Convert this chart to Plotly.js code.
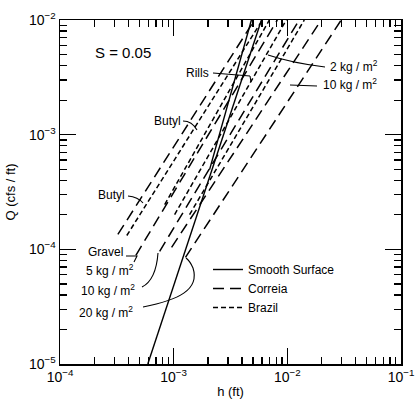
<!DOCTYPE html>
<html><head><meta charset="utf-8">
<script src="https://cdn.plot.ly/plotly-3.0.1.min.js"></script>
<style>html,body{margin:0;padding:0;background:#fff;}#chart{width:419px;height:408px;}</style>
</head><body><div id="chart"></div>
<script>
// ---- data (h in ft, Q in cfs/ft) ----
// Smooth surface (solid)
const smoothH = [5.92e-4, 5.92e-3];
const smoothQ = [1.0e-5, 1.0e-2];
// Rills (solid)
const rillsH = [2.07e-3, 4.83e-3];
const rillsQ = [4.96e-4, 1.0e-2];
// Correia (long dash)
const correiaNames = ['Butyl', 'Gravel', '5 kg/m2', '10 kg/m2', '20 kg/m2'];
const correiaH = [[3.23e-4, 5.14e-3], [4.65e-4, 8.17e-3], [7.53e-4, 1.27e-2], [9.59e-4, 1.99e-2], [1.27e-3, 2.98e-2]];
const correiaQ = [[1.35e-4, 1e-2], [8.87e-5, 1e-2], [9.61e-5, 1e-2], [1.04e-4, 1e-2], [8.51e-5, 1e-2]];
// Brazil (short dash)
const brazilNames = ['Butyl', 'Rills', '2 kg/m2', '10 kg/m2'];
const brazilH = [[3.87e-4, 6.04e-3], [8.34e-4, 6.95e-3], [1.02e-3, 9.79e-3], [1.38e-3, 1.41e-2]];
const brazilQ = [[1.32e-4, 1e-2], [2.46e-4, 1e-2], [2.01e-4, 1e-2], [2.01e-4, 1e-2]];
// ticks
const majorX = [1e-4, 1e-3, 1e-2, 1e-1];
const majorXText = ['10<sup>−4</sup>', '10<sup>−3</sup>', '10<sup>−2</sup>', '10<sup>−1</sup>'];
const majorY = [1e-5, 1e-4, 1e-3, 1e-2];
const majorYText = ['10<sup>−5</sup>', '10<sup>−4</sup>', '10<sup>−3</sup>', '10<sup>−2</sup>'];
const minorMult = [2, 3, 4, 5, 6, 7, 8, 9];

const FONT = 'Liberation Sans, DejaVu Sans, sans-serif';
const traces = [];
traces.push({x: smoothH, y: smoothQ, mode: 'lines', name: 'Smooth Surface', legendgroup: 's',
  line: {color: '#000', width: 1.4}, hoverinfo: 'skip'});
correiaNames.forEach((n, i) => traces.push({x: correiaH[i], y: correiaQ[i], mode: 'lines', name: 'Correia',
  legendgroup: 'c', showlegend: i === 0, line: {color: '#000', width: 1.5, dash: '11px,6px'}}));
brazilNames.forEach((n, i) => traces.push({x: brazilH[i], y: brazilQ[i], mode: 'lines', name: 'Brazil',
  legendgroup: 'b', showlegend: i === 0, line: {color: '#000', width: 1.5, dash: '5px,3px'}}));
traces.push({x: rillsH, y: rillsQ, mode: 'lines', name: 'Rills', showlegend: false,
  line: {color: '#000', width: 1.4}});

const minorOf = (maj) => { const v = []; maj.slice(0, -1).forEach(m => minorMult.forEach(k => v.push(m * k))); return v; };

function axis(vals, txt, rng, title, standoff) {
  return {type: 'log', range: rng, tickmode: 'array', tickvals: vals, ticktext: txt,
    ticks: 'inside', ticklen: 16, tickwidth: 1.5, tickcolor: '#000', showline: true, linecolor: '#000',
    linewidth: 1.5, mirror: 'ticks', showgrid: false, zeroline: false,
    tickfont: {family: FONT, size: 14, color: '#000'},
    minor: {tickmode: 'array', tickvals: minorOf(vals), ticks: 'inside', ticklen: 7, tickwidth: 1.3,
      tickcolor: '#000', showgrid: false},
    title: {text: title, standoff: standoff, font: {family: FONT, size: 13, color: '#000'}}};
}

const X = px => (px - 60) / 341;
const Y = py => (364 - py) / 344;
const P = (px, py) => `${X(px)},${Y(py)}`;
const paths = [
  `M${P(213,73)} L${P(250,76)} M${P(250,76)} L${P(251,82)}`,
  `M${P(183,121)} Q${P(192,121)} ${P(197,130)}`,
  `M${P(128,196)} Q${P(138,197)} ${P(143,203)}`,
  `M${P(126,256)} L${P(137,256)} L${P(134,262)}`,
  `M${P(142,287)} Q${P(156,280)} ${P(158,253)}`,
  `M${P(143,307)} C${P(178,300)} ${P(200,290)} ${P(193,268)} Q${P(190,261)} ${P(186,258)}`,
  `M${P(325,67)} Q${P(292,63)} ${P(268,55)}`,
  `M${P(317,86)} L${P(290,85)}`
];
const shapes = paths.map(p => ({type: 'path', xref: 'paper', yref: 'paper', path: p,
  line: {color: '#000', width: 1.1}}));

const ann = (px, py, text, size) => ({xref: 'paper', yref: 'paper', x: X(px), y: Y(py), text: text,
  showarrow: false, xanchor: 'center', yanchor: 'middle', font: {family: FONT, size: size || 12, color: '#000'}});
const annotations = [
  ann(123, 52, 'S = 0.05', 15),
  ann(197, 73, 'Rills'),
  ann(167, 121, 'Butyl'),
  ann(111, 195, 'Butyl'),
  ann(105, 252, 'Gravel'),
  ann(110, 270, '5 kg / m<sup>2</sup>'),
  ann(108, 290, '10 kg / m<sup>2</sup>'),
  ann(106, 312, '20 kg / m<sup>2</sup>'),
  ann(354, 66, '2 kg / m<sup>2</sup>'),
  ann(350, 84, '10 kg / m<sup>2</sup>')
];

const layout = {
  width: 419, height: 408, margin: {l: 60, r: 18, t: 20, b: 44},
  paper_bgcolor: '#fff', plot_bgcolor: '#fff',
  font: {family: FONT, color: '#000'},
  xaxis: axis(majorX, majorXText, [-4, -1], 'h (ft)', 2),
  yaxis: axis(majorY, majorYText, [-5, -2], 'Q (cfs / ft)', 10),
  showlegend: true,
  legend: {x: X(208), y: Y(255), xanchor: 'left', yanchor: 'top', bgcolor: 'rgba(0,0,0,0)',
    font: {family: FONT, size: 12, color: '#000'}, tracegroupgap: 0},
  shapes: shapes, annotations: annotations
};
Plotly.newPlot('chart', traces, layout, {displayModeBar: false, staticPlot: true});
</script></body></html>
